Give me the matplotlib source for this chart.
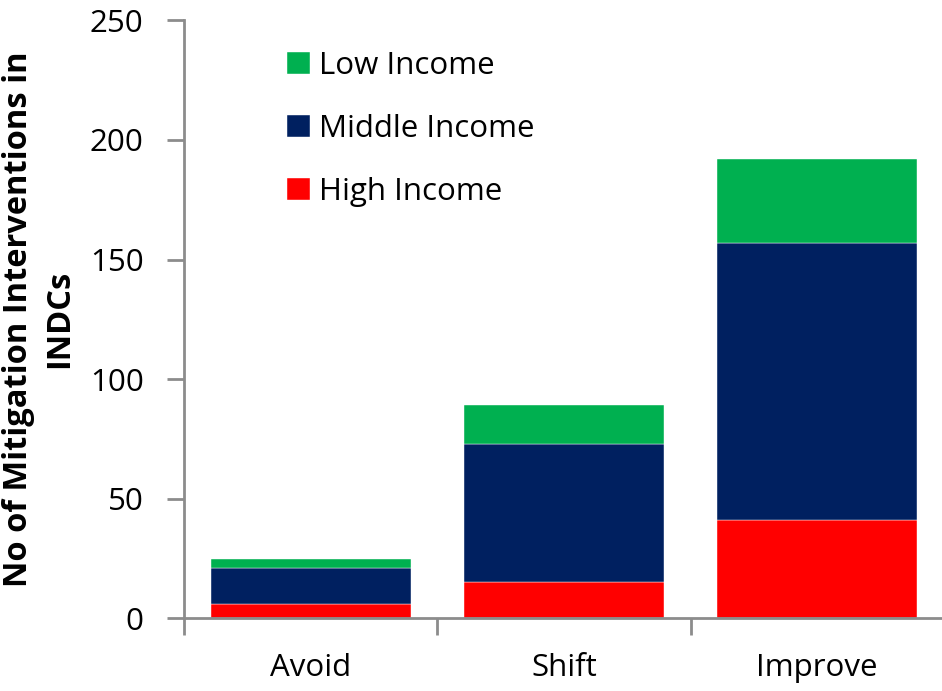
import matplotlib
matplotlib.use("Agg")
import matplotlib.pyplot as plt
import numpy as np

# Mitigation interventions by category and income group
categories = ["Avoid", "Shift", "Improve"]
high_income = [6, 15, 41]
middle_income = [15, 58, 116]
low_income = [4, 16, 35]
y_ticks = [0, 50, 100, 150, 200, 250]

plt.rcParams['font.family'] = ['Open Sans', 'DejaVu Sans']

fig = plt.figure(figsize=(9.42, 6.91), dpi=100)
ax = fig.add_axes([0.1953, 0.1052, 0.8067, 0.8654])

x = np.arange(len(categories))
width = 0.79
high = np.array(high_income)
mid = np.array(middle_income)
low = np.array(low_income)

b_high = ax.bar(x, high, width, color="#FF0000", label="High Income",
                edgecolor="white", linewidth=0.3)
b_mid = ax.bar(x, mid, width, bottom=high, color="#002060", label="Middle Income",
               edgecolor="white", linewidth=0.3)
b_low = ax.bar(x, low, width, bottom=high + mid, color="#00B050", label="Low Income",
               edgecolor="white", linewidth=0.3)

ax.set_xlim(-0.5, 2.5)
ax.set_ylim(0, 250)
ax.set_yticks(y_ticks)
ax.set_yticklabels([str(v) for v in y_ticks], fontsize=22.5)

# category labels centred under bars, tick marks on the boundaries
ax.set_xticks(x)
ax.set_xticklabels(categories, fontsize=22.5)
ax.tick_params(axis='x', which='major', length=0, pad=25)
ax.set_xticks([-0.5, 0.5, 1.5], minor=True)
ax.tick_params(axis='x', which='minor', length=12, width=2, color="#8c8c8c", direction='out')
ax.tick_params(axis='y', length=12, width=2, color="#8c8c8c", direction='out', pad=17)

for side in ["top", "right"]:
    ax.spines[side].set_visible(False)
for side in ["left", "bottom"]:
    ax.spines[side].set_color("#8c8c8c")
    ax.spines[side].set_linewidth(2)

ax.set_ylabel("No of Mitigation Interventions in\nINDCs", fontsize=23.5,
              fontweight="bold", linespacing=1.3, labelpad=10)

handles = [b_low, b_mid, b_high]
leg = ax.legend(handles, [h.get_label() for h in handles], loc="upper left",
                bbox_to_anchor=(0.111, 0.98), frameon=False, fontsize=22.5,
                handlelength=0.72, handleheight=0.72, handletextpad=0.3,
                labelspacing=1.05, borderaxespad=0.2)

fig.savefig("out.png", dpi=100)
